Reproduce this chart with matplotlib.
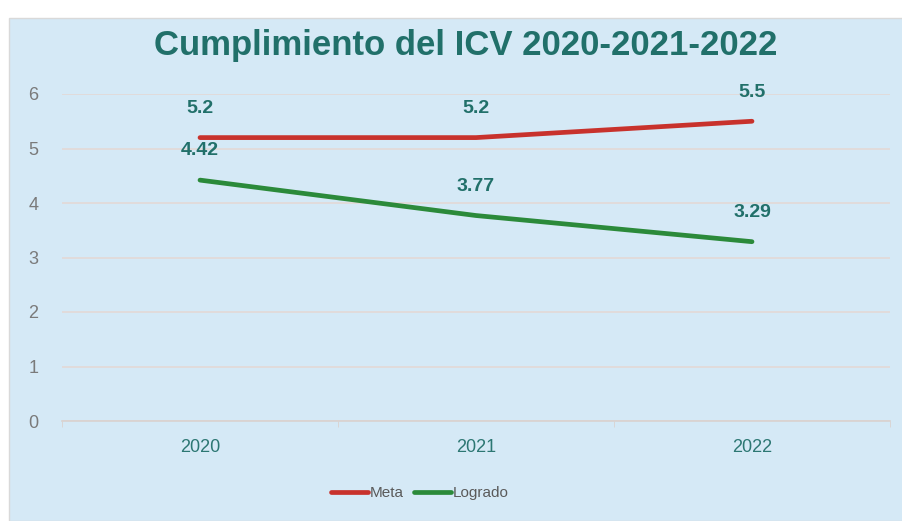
import matplotlib
matplotlib.use("Agg")
import matplotlib.pyplot as plt
from matplotlib.patches import Rectangle
from matplotlib.ticker import FixedLocator

years = ["2020", "2021", "2022"]
meta = [5.2, 5.2, 5.5]
logrado = [4.42, 3.77, 3.29]
meta_labels = ["5.2", "5.2", "5.5"]
logrado_labels = ["4.42", "3.77", "3.29"]

plt.rcParams['font.family'] = ['Liberation Sans', 'DejaVu Sans']

bg = "#d5e9f6"
teal = "#21706a"
red = "#c8322c"
green = "#2b8a3a"

fig = plt.figure(figsize=(9.03, 5.21), dpi=100)
fig.patch.set_facecolor("white")
# light blue chart area (image has a thin white/gray frame top and left)
frame = Rectangle((9 / 903, 0), 1, 1 - 18 / 521, transform=fig.transFigure,
                  facecolor=bg, edgecolor="#d9d9d9", lw=1, zorder=-10)
fig.patches.append(frame)

ax = fig.add_axes([62 / 903, 1 - 421 / 521, (890 - 62) / 903, (421 - 94) / 521])
ax.set_zorder(5)
ax.patch.set_alpha(0)

x = list(range(len(years)))
ax.plot(x, meta, color=red, lw=3.4, solid_capstyle="round", label="Meta", zorder=3)
ax.plot(x, logrado, color=green, lw=3.4, solid_capstyle="round", label="Logrado", zorder=3)

for xi, v, t in zip(x, meta, meta_labels):
    ax.annotate(t, (xi, v), xytext=(0, 21), textcoords="offset points", ha="center",
                va="center", fontsize=14, fontweight="bold", color=teal)
for xi, v, t in zip(x, logrado, logrado_labels):
    ax.annotate(t, (xi, v), xytext=(0, 21), textcoords="offset points", ha="center",
                va="center", fontsize=14, fontweight="bold", color=teal)

ax.set_xlim(-0.5, 2.5)
ax.set_ylim(0, 6)
ax.set_yticks(range(0, 7))
ax.grid(axis="y", color="#e3d9d6", lw=1.2)
ax.set_axisbelow(True)
for s in ["top", "right", "left"]:
    ax.spines[s].set_visible(False)
ax.spines["bottom"].set_color("#d9d2cf")
ax.spines["bottom"].set_linewidth(1.2)

ax.set_xticks(x)
ax.set_xticklabels(years)
ax.xaxis.set_minor_locator(FixedLocator([-0.5, 0.5, 1.5, 2.5]))
ax.tick_params(axis="x", which="major", length=0, pad=13, labelsize=13, labelcolor="#2c7773")
ax.tick_params(axis="x", which="minor", length=4, color="#d9d2cf")
ax.tick_params(axis="y", length=0, pad=17, labelsize=13, labelcolor="#7a7a7a")

fig.text(466 / 903, 1 - 45 / 521, "Cumplimiento del ICV 2020-2021-2022", ha="center", va="center",
         fontsize=25, fontweight="bold", color=teal)

leg = ax.legend(loc="center", bbox_to_anchor=(0.432, -0.22), ncol=2, frameon=False,
                fontsize=11, handlelength=2.4, columnspacing=0.7, handletextpad=0.1)
for t in leg.get_texts():
    t.set_color("#5a5a5a")

fig.savefig("out.png", dpi=100, facecolor=fig.get_facecolor())
